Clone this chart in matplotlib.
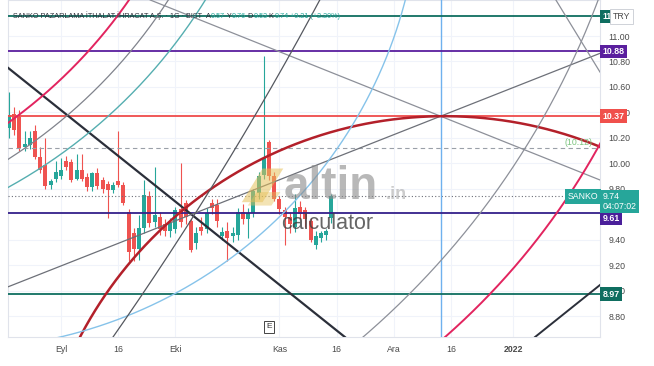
import numpy as np
import matplotlib
matplotlib.use("Agg")
import matplotlib.pyplot as plt
from matplotlib.patches import Polygon

plt.rcParams['font.family'] = ['Liberation Sans', 'DejaVu Sans']

# ---------------- data ----------------
# trading-day index, 0 = 1 Eylul 2021
bar_index = list(range(-10, 53))
opens = [10.28, 10.39, 10.36, 10.13, 10.14, 10.25, 10.05, 9.99, 9.83, 9.88,
         9.90, 10.02, 10.01, 9.88, 9.95, 9.89, 9.81, 9.92, 9.87, 9.84,
         9.79, 9.86, 9.83, 9.62, 9.45, 9.33, 9.49, 9.74, 9.54, 9.58,
         9.52, 9.47, 9.48, 9.64, 9.69, 9.55, 9.37, 9.50, 9.48, 9.69,
         9.67, 9.43, 9.47, 9.43, 9.44, 9.62, 9.56, 9.61, 9.77, 9.91,
         10.17, 9.90, 9.72, 9.63, 9.58, 9.50, 9.66, 9.63, 9.55, 9.36,
         9.41, 9.44, 9.57]
highs = [10.56, 10.44, 10.42, 10.25, 10.25, 10.30, 10.13, 10.20, 9.88, 10.02,
         10.04, 10.06, 10.03, 10.07, 10.07, 9.92, 9.93, 9.96, 9.89, 9.86,
         9.85, 10.25, 9.85, 9.64, 9.49, 9.59, 9.87, 9.78, 9.97, 9.62,
         9.56, 9.57, 9.66, 10.00, 9.71, 9.56, 9.50, 9.58, 9.65, 9.72,
         9.72, 9.50, 9.54, 9.50, 9.65, 9.68, 9.65, 9.80, 9.93, 10.84,
         10.18, 9.93, 9.74, 9.66, 9.62, 9.76, 9.70, 9.66, 9.57, 9.47,
         9.47, 9.48, 9.76]
lows = [10.20, 10.22, 10.10, 10.10, 10.11, 10.03, 9.92, 9.80, 9.80, 9.85,
        9.88, 9.95, 9.85, 9.87, 9.86, 9.78, 9.78, 9.80, 9.77, 9.57,
        9.77, 9.81, 9.67, 9.23, 9.23, 9.24, 9.45, 9.50, 9.50, 9.44,
        9.43, 9.42, 9.45, 9.50, 9.52, 9.30, 9.33, 9.44, 9.45, 9.60,
        9.50, 9.40, 9.23, 9.38, 9.40, 9.52, 9.41, 9.58, 9.72, 9.88,
        9.87, 9.70, 9.60, 9.36, 9.45, 9.46, 9.56, 9.50, 9.38, 9.33,
        9.38, 9.40, 9.53]
closes = [10.38, 10.26, 10.12, 10.15, 10.20, 10.05, 9.95, 9.82, 9.86, 9.93,
          9.95, 9.97, 9.87, 9.95, 9.88, 9.81, 9.92, 9.82, 9.80, 9.79,
          9.83, 9.83, 9.69, 9.30, 9.33, 9.49, 9.75, 9.53, 9.59, 9.48,
          9.47, 9.53, 9.63, 9.54, 9.58, 9.32, 9.45, 9.47, 9.61, 9.65,
          9.55, 9.46, 9.41, 9.45, 9.62, 9.56, 9.61, 9.78, 9.90, 10.04,
          9.90, 9.72, 9.64, 9.58, 9.52, 9.65, 9.60, 9.56, 9.40, 9.43,
          9.45, 9.47, 9.74]

tick_index = [0, 11, 22, 42, 53, 64, 75, 87]
tick_labels = ['Eyl', '16', 'Eki', 'Kas', '16', 'Ara', '16', '2022']
price_ticks = [11.00, 10.80, 10.60, 10.40, 10.20, 10.00, 9.80,
               9.40, 9.20, 9.00, 8.80]

level_prices = [11.16, 10.88, 10.37, 9.61, 8.97]
level_labels = ['11.16', '10.88', '10.37', '9.61', '8.97']
last_price = 9.74
last_label = '9.74\n04:07:02'
marker_price = 10.12
marker_label = '(10.12)'
pivot_bar = 73
earnings_bar = 40

# drawing anchors (bar index, price)
straight_lines = [((-10.19, 10.75), (54.6, 8.635)),     # black falling
                  ((91.15, 8.635), (103.65, 9.044)),    # black rising
                  ((19.6, 11.243), (73.0, 10.37)),      # grey falling
                  ((-10.29, 9.028), (73.0, 10.37)),     # grey rising
                  ((95.77, 11.243), (103.65, 10.717))]  # grey falling right
arc_red = [(3.65, 8.635), (73.08, 10.37), (103.65, 10.13)]
arc_pink_left = [(-10.19, 10.317), (4.23, 10.835), (13.08, 11.283)]
arc_pink_right = [(73.85, 8.635), (92.5, 9.452), (103.65, 10.152)]
arc_cyan_left = [(-10.38, 9.806), (10.38, 10.419), (27.1, 11.24)]
arc_grey_left = [(-10.38, 10.026), (6.54, 10.576), (20.0, 11.243)]
arc_lightblue = [(-0.19, 8.635), (52.5, 10.08), (65.96, 11.244)]
arc_grey_right = [(58.08, 8.635), (84.4, 9.82), (102.9, 11.24)]
arc_darkgrey = [(10.0, 8.635), (22.9, 9.42), (49.2, 11.24)]

# ---------------- figure ----------------
W, H = 654, 366
fig = plt.figure(figsize=(W / 100, H / 100), dpi=100)
fig.patch.set_facecolor('white')
L, R, T, B = 8, 600, 0, 337
ax = fig.add_axes([L / W, 1 - B / H, (R - L) / W, (B - T) / H])
x0, x1 = (L - 61) / 5.2, (R - 61) / 5.2
ylo, yhi = 11.2828 - B / 127.3, 11.2828
ax.set_xlim(x0, x1)
ax.set_ylim(ylo, yhi)

SX, SY = 5.2, 127.3  # screen px per bar / per price unit


def arc_pts(pts, ext=0.25, n=400):
    P = np.array(pts, float) * [SX, SY]
    (xa, ya), (xb, yb), (xc, yc) = P
    d = 2 * (xa * (yb - yc) + xb * (yc - ya) + xc * (ya - yb))
    sa, sb, sc = xa * xa + ya * ya, xb * xb + yb * yb, xc * xc + yc * yc
    ux = (sa * (yb - yc) + sb * (yc - ya) + sc * (ya - yb)) / d
    uy = (sa * (xc - xb) + sb * (xa - xc) + sc * (xb - xa)) / d
    r = np.hypot(xa - ux, ya - uy)
    a1 = np.arctan2(ya - uy, xa - ux)
    a2 = np.arctan2(yb - uy, xb - ux)
    a3 = np.arctan2(yc - uy, xc - ux)
    sw = (a3 - a1) % (2 * np.pi)
    if (a2 - a1) % (2 * np.pi) > sw:
        sw -= 2 * np.pi
    t = np.linspace(a1 - ext * sw, a1 + (1 + ext) * sw, n)
    return (ux + r * np.cos(t)) / SX, (uy + r * np.sin(t)) / SY


# grid
grid_c = '#f0f3fa'
for p in price_ticks:
    ax.axhline(p, color=grid_c, lw=0.8, zorder=0)
for t in tick_index:
    ax.axvline(t, color=grid_c, lw=0.8, zorder=0)

# candles
o, h, lo, c = map(np.array, (opens, highs, lows, closes))
up = c >= o
cols = np.where(up, '#26a69a', '#ef5350')
ax.vlines(bar_index, lo, h, colors=cols, lw=0.8, zorder=3)
ax.bar(bar_index, np.maximum(np.abs(c - o), 0.012), bottom=np.minimum(o, c),
       width=0.74, color=cols, linewidth=0, zorder=4)

# horizontal levels
level_colors = ['#0f6e60', '#5a1f9e', '#ef4b4b', '#34208a', '#0f6e60']
for p, col in zip(level_prices, level_colors):
    ax.axhline(p, color=col, lw=1.3, zorder=6)
ax.axhline(marker_price, color='#9aa0a8', lw=0.8, ls=(0, (4, 3)), zorder=5)
ax.axhline(last_price, color='#6d7078', lw=0.8, ls=(0, (1, 2)), zorder=5)
ax.axvline(pivot_bar, color='#6fb1ee', lw=1.0, zorder=5)

# straight drawing lines
line_styles = [('#2b2f3a', 1.6), ('#2b2f3a', 1.4), ('#8d9099', 0.9),
               ('#6d7078', 0.9), ('#8d9099', 0.9)]
for (pa, pb), (col, lw) in zip(straight_lines, line_styles):
    ax.axline(pa, pb, color=col, lw=lw, zorder=6)

# arcs
for pts, col, lw in [(arc_red, '#b3202a', 1.8),
                     (arc_pink_left, '#e2245f', 1.4),
                     (arc_pink_right, '#e2245f', 1.4),
                     (arc_cyan_left, '#55aeb0', 1.0),
                     (arc_grey_left, '#80838c', 0.9),
                     (arc_lightblue, '#86c3ea', 1.0),
                     (arc_grey_right, '#8d9099', 0.9),
                     (arc_darkgrey, '#55585f', 0.9)]:
    xs, ys = arc_pts(pts)
    ax.plot(xs, ys, color=col, lw=lw, zorder=6)

# axes styling
for s in ax.spines.values():
    s.set_color('#e0e3eb')
    s.set_linewidth(0.8)
ax.set_xticks(tick_index)
ax.set_xticklabels(tick_labels)
for lab in ax.get_xticklabels():
    lab.set_fontsize(6.3)
    lab.set_color('#4a4a4a')
ax.get_xticklabels()[-1].set_fontweight('bold')
ax.tick_params(axis='x', length=0, pad=6)
ax.yaxis.tick_right()
ax.set_yticks(price_ticks)
ax.set_yticklabels([f'{p:.2f}' for p in price_ticks])
ax.tick_params(axis='y', length=0, pad=6, labelsize=6.3, labelcolor='#4a4a4a')

yt = ax.get_yaxis_transform()
box_colors = ['#0f6e60', '#5a1f9e', '#f0504c', '#4a1f9a', '#0f6e60']
box_pos = [11.153, 10.878, 10.37, 9.566, 8.97]
for lab, col, pp in zip(level_labels, box_colors, box_pos):
    ax.text(1.004, pp, lab, transform=yt, color='white', fontsize=6.3,
            fontweight='bold', va='center', ha='left', clip_on=False, zorder=20,
            bbox=dict(boxstyle='square,pad=0.28', fc=col, ec='none'))
ax.text(1.004, 9.70, last_label, transform=yt, color='white', fontsize=6.3,
        va='center', ha='left', clip_on=False, zorder=21, linespacing=1.05,
        bbox=dict(boxstyle='square,pad=0.28', fc='#26a69a', ec='none'))
ax.text(0.997, last_price, 'SANKO', transform=yt, color='white', fontsize=6.3,
        va='center', ha='right', clip_on=False, zorder=21,
        bbox=dict(boxstyle='square,pad=0.3', fc='#26a69a', ec='none'))
ax.text(1.022, 11.153, 'TRY', transform=yt, color='#4a4a4a', fontsize=6.3,
        va='center', ha='left', clip_on=False, zorder=22,
        bbox=dict(boxstyle='square,pad=0.3', fc='white', ec='#c8cbd2', lw=0.6))
ax.text(0.988, marker_price + 0.045, marker_label, transform=yt, color='#7cc47f',
        fontsize=6.3, va='center', ha='right', zorder=8)

# earnings marker
ax.text(earnings_bar, 0.03, 'E', transform=ax.get_xaxis_transform(),
        fontsize=6, color='#333', ha='center', va='center', zorder=8,
        bbox=dict(boxstyle='square,pad=0.3', fc='white', ec='#444', lw=0.7))

# title
t0 = ax.text(0.0085, 0.955, 'SANKO PAZARLAMA İTHALAT İHRACAT A.Ş. · 1G · BIST  ',
             transform=ax.transAxes, fontsize=5.2, color='#2a2e39',
             va='center', ha='left', zorder=9)
prev = t0
for txt, col in [('A', '#2a2e39'), ('9.57', '#26a69a'), (' Y', '#2a2e39'),
                 ('9.76', '#26a69a'), (' D', '#2a2e39'), ('9.53', '#26a69a'),
                 (' K', '#2a2e39'), ('9.74', '#26a69a'),
                 (' +0.21 (+2.20%)', '#26a69a')]:
    prev = ax.annotate(txt, xy=(1, 0), xycoords=prev, va='bottom', ha='left',
                       fontsize=5.2, color=col, zorder=9)

# watermark
ax.add_patch(Polygon([(0.395, 0.40), (0.43, 0.50), (0.465, 0.50), (0.43, 0.40)],
                     closed=True, transform=ax.transAxes, fc='#e6c15a',
                     ec='none', alpha=0.55, zorder=10))
ax.add_patch(Polygon([(0.405, 0.39), (0.445, 0.39), (0.46, 0.43), (0.42, 0.43)],
                     closed=True, transform=ax.transAxes, fc='#e6c15a',
                     ec='none', alpha=0.45, zorder=10))
ax.text(0.465, 0.41, 'altin', transform=ax.transAxes, fontsize=33,
        fontweight='bold', color='#8a8a8a', alpha=0.6, ha='left',
        va='baseline', zorder=10)
ax.text(0.638, 0.41, '.in', transform=ax.transAxes, fontsize=13,
        fontweight='bold', color='#9a9a9a', alpha=0.5, ha='left',
        va='baseline', zorder=10)
ax.text(0.462, 0.32, 'calculator', transform=ax.transAxes, fontsize=15.5,
        color='#404040', alpha=0.8, ha='left', va='baseline', zorder=10)

fig.savefig('out.png', dpi=100, facecolor='white')
